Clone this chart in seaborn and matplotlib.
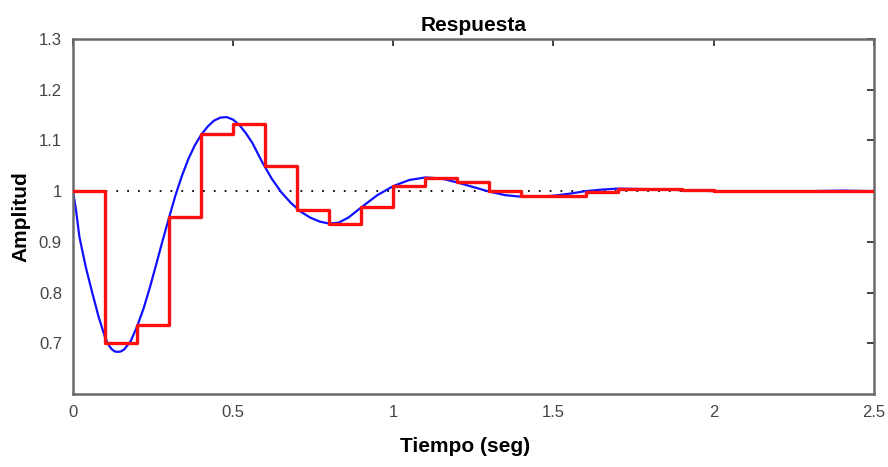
import numpy as np
import pandas as pd
import matplotlib
matplotlib.use("Agg")
import matplotlib.pyplot as plt
import seaborn as sns

# continuous response (blue)
t_cont = [0.00, 0.01, 0.02, 0.04, 0.06, 0.08, 0.10, 0.11, 0.12, 0.13, 0.14, 0.15,
          0.16, 0.18, 0.20, 0.22, 0.24, 0.26, 0.28, 0.30, 0.32, 0.34, 0.36, 0.38,
          0.40, 0.42, 0.44, 0.46, 0.48, 0.50, 0.52, 0.54, 0.56, 0.59, 0.62, 0.65,
          0.68, 0.71, 0.74, 0.77, 0.80, 0.83, 0.86, 0.90, 0.95, 1.00, 1.05, 1.10,
          1.15, 1.20, 1.25, 1.30, 1.35, 1.40, 1.45, 1.50, 1.55, 1.60, 1.65, 1.70,
          1.80, 1.90, 2.00, 2.10, 2.20, 2.30, 2.40, 2.50]
y_cont = [1.000, 0.960, 0.910, 0.850, 0.800, 0.752, 0.712, 0.698, 0.689, 0.684, 0.683, 0.684,
          0.688, 0.704, 0.733, 0.768, 0.810, 0.856, 0.903, 0.948, 0.992, 1.030, 1.063, 1.090,
          1.111, 1.127, 1.139, 1.145, 1.146, 1.141, 1.130, 1.114, 1.095, 1.058, 1.025, 0.998,
          0.977, 0.960, 0.948, 0.940, 0.936, 0.938, 0.948, 0.968, 0.992, 1.010, 1.022, 1.027,
          1.025, 1.017, 1.008, 0.999, 0.992, 0.989, 0.989, 0.991, 0.995, 1.000, 1.003, 1.005,
          1.004, 1.002, 1.000, 0.999, 0.999, 1.000, 1.001, 1.000]

# sampled response (red), one value per 0.1 s step
t_disc = [0.0, 0.1, 0.2, 0.3, 0.4, 0.5, 0.6, 0.7, 0.8, 0.9, 1.0, 1.1, 1.2,
          1.3, 1.4, 1.5, 1.6, 1.7, 1.8, 1.9, 2.0, 2.1, 2.2, 2.3, 2.4, 2.5]
y_disc = [1.000, 0.700, 0.737, 0.950, 1.112, 1.132, 1.049, 0.962, 0.936, 0.968, 1.011,
          1.026, 1.019, 1.000, 0.990, 0.990, 0.999, 1.005, 1.004, 1.002, 1.000, 1.000,
          1.000, 1.000, 1.000, 1.000]

sns.set_style("white")
plt.rcParams["font.family"] = ["Liberation Sans", "DejaVu Sans"]

fig = plt.figure(figsize=(8.88, 4.67), dpi=100)
ax = fig.add_axes([0.0822, 0.1563, 0.9018, 0.7602])

ax.axhline(1.0, color="black", linestyle=(0, (1, 5)), linewidth=1.3, zorder=1)
sns.lineplot(x=t_cont, y=y_cont, color="#1010ff", linewidth=1.6, ax=ax, zorder=2)
sns.lineplot(x=t_disc, y=y_disc, color="#ff1010", linewidth=2.4,
             drawstyle="steps-post", ax=ax, zorder=3)

ax.set_xlim(0, 2.5)
ax.set_ylim(0.6, 1.3)
ax.set_xticks([0, 0.5, 1, 1.5, 2, 2.5])
ax.set_xticklabels(["0", "0.5", "1", "1.5", "2", "2.5"])
ax.set_yticks([0.7, 0.8, 0.9, 1.0, 1.1, 1.2, 1.3])
ax.set_yticklabels(["0.7", "0.8", "0.9", "1", "1.1", "1.2", "1.3"])

ax.tick_params(direction="in", length=5, width=1.2, top=True, right=True,
               colors="#222222", labelcolor="#444444", labelsize=12, pad=8)
for s in ax.spines.values():
    s.set_color("#6a6a6a")
    s.set_linewidth(1.8)

ax.set_title("Respuesta", fontsize=15, fontweight="bold", pad=6, color="black")
ax.set_xlabel("Tiempo (seg)", fontsize=15, fontweight="bold", color="black")
ax.set_ylabel("Amplitud", fontsize=15, fontweight="bold", labelpad=6, color="black")
ax.xaxis.set_label_coords(0.49, -0.12)

plt.savefig("out.png", dpi=100)
